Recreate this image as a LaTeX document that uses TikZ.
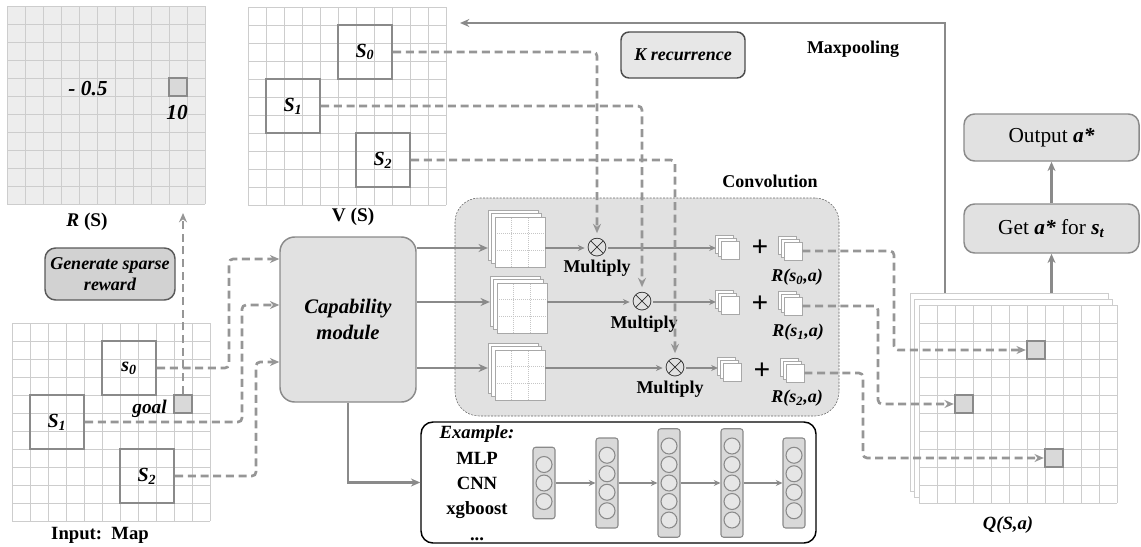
\documentclass[tikz,border=0pt]{standalone}
\usepackage{fontspec}
\setmainfont{Liberation Serif}
\usepackage{tikz}
\usetikzlibrary{calc,positioning,arrows.meta,shadows}

\definecolor{lnGray}{HTML}{8A8A8A}
\definecolor{dashGray}{HTML}{969696}
\definecolor{gridGray}{HTML}{CDCDCD}
\definecolor{boxFill}{HTML}{E1E1E1}
\definecolor{rFill}{HTML}{EDEDED}
\definecolor{genFill}{HTML}{D2D2D2}
\definecolor{cellFill}{HTML}{D9D9D9}
\definecolor{neuFill}{HTML}{E6E6E6}
\definecolor{fmGray}{HTML}{A8A8A8}

% 11x11 map grid, top left corner at (#1,#2)
\newcommand{\gridmap}[3]{%
  \fill[#3] (#1,#2) rectangle ++(198,198);
  \foreach \k in {0,...,11}{%
    \draw[gridln] ({#1+\k*18},#2) -- ++(0,198);
    \draw[gridln] (#1,{#2+\k*18}) -- ++(198,0);
  }}

\begin{document}
\begin{tikzpicture}[x=0.75pt,y=-0.75pt,>={Stealth[length=7pt,width=6pt]},
  gridln/.style={draw=gridGray,line width=0.7pt},
  lbl/.style={font=\fontsize{13.5}{16}\selectfont\bfseries},
  ilbl/.style={font=\fontsize{13.5}{16}\selectfont\bfseries\itshape},
  dashln/.style={draw=dashGray,line width=2pt,dash pattern=on 6pt off 3.5pt,rounded corners=3pt},
  solidln/.style={draw=lnGray,line width=1.8pt},
  thinln/.style={draw=lnGray,line width=1.1pt,>={Stealth[length=5pt,width=4.5pt]}},
  statebox/.style={draw=lnGray,line width=1.8pt,minimum size=40.5pt,inner sep=0pt,
    font=\fontsize{15}{16}\selectfont\bfseries\itshape},
  cellsq/.style={draw=lnGray,line width=1.8pt,fill=cellFill,minimum size=13.5pt,inner sep=0pt},
  roundbox/.style={draw=lnGray,line width=1.1pt,fill=boxFill,rounded corners=8pt,align=center},
  fmdot/.style={draw=gray!45,densely dotted,line width=0.5pt},
  fmap/.style={draw=fmGray,fill=white,line width=0.7pt,minimum size=37.5pt,inner sep=0pt,
    double copy shadow={shadow xshift=-2.6pt,shadow yshift=2.6pt},
    path picture={\foreach \t in {0.333,0.667}{
      \draw[fmdot] ($(path picture bounding box.south west)!\t!(path picture bounding box.south east)$)
        -- ($(path picture bounding box.north west)!\t!(path picture bounding box.north east)$);
      \draw[fmdot] ($(path picture bounding box.south west)!\t!(path picture bounding box.north west)$)
        -- ($(path picture bounding box.south east)!\t!(path picture bounding box.north east)$);}}},
  smap/.style={draw=fmGray,fill=white,line width=0.7pt,minimum size=13.5pt,inner sep=0pt,
    double copy shadow={shadow xshift=-1.9pt,shadow yshift=1.9pt}},
  mult/.style={font=\fontsize{20}{20}\selectfont,inner sep=0pt},
  plus/.style={font=\fontsize{22}{22}\selectfont\bfseries,inner sep=0pt},
  layerbox/.style={draw=lnGray,line width=0.8pt,fill=cellFill,rounded corners=2pt,minimum width=16.5pt,inner sep=0pt},
  neuron/.style={circle,draw=lnGray,line width=0.8pt,fill=neuFill,minimum size=12pt,inner sep=0pt}]
  \useasboundingbox (0,0) rectangle (1141,546);

  % reward map R(S)
  \gridmap{7}{6}{rFill}
  \node[cellsq] (rgoal) at (178,87) {};
  \node[font=\fontsize{16}{18}\selectfont\bfseries\itshape] (rneg) at (88,89) {- 0.5};
  \node[font=\fontsize{16}{18}\selectfont\bfseries\itshape] (rten) at (177,113) {10};
  \node[font=\fontsize{14.5}{16}\selectfont\bfseries] (rlab) at (87,222) {\textit{R} (S)};
  \coordinate (rin) at (183,213);

  \node[roundbox,draw=black!65,fill=genFill,minimum width=97.5pt,minimum height=39pt,
    font=\fontsize{13.5}{16}\selectfont\bfseries\itshape] (gen) at (110,274) {Generate sparse\\reward};

  % input map
  \gridmap{12}{323}{white}
  \node[statebox] (in0) at (129,368) {\raisebox{-4pt}{s\textsubscript{0}}};
  \node[statebox] (in1) at (57,422) {\raisebox{-3pt}{S\textsubscript{1}}};
  \node[statebox] (in2) at (147,476) {\raisebox{-6pt}{S\textsubscript{2}}};
  \node[cellsq] (goal) at (183,404) {};
  \node[font=\fontsize{14.5}{16}\selectfont\bfseries\itshape,left=1pt of goal,yshift=-4pt] (goallab) {goal};
  \node[font=\fontsize{14}{16}\selectfont\bfseries] (inlab) at (100,535) {Input:\ \ Map};
  \draw[dashln,->] (goal.north) -- (rin);

  % value map V(S)
  \gridmap{248}{7}{white}
  \node[statebox] (v0) at (365,52) {\raisebox{-5pt}{S\textsubscript{0}}};
  \node[statebox] (v1) at (293,106) {\raisebox{-2pt}{S\textsubscript{1}}};
  \node[statebox] (v2) at (383,160) {\raisebox{-4pt}{S\textsubscript{2}}};
  \node[font=\fontsize{14.5}{16}\selectfont\bfseries] (vlab) at (353,217) {V (S)};

  \node[roundbox,draw=black!70,fill=boxFill!80!white,rounded corners=6pt,minimum width=93pt,
    minimum height=34.5pt,ilbl] (krec) at (683,55) {K recurrence};
  \node[lbl] (maxlab) at (853,49) {Maxpooling};

  % capability module
  \node[roundbox,minimum width=102pt,minimum height=123.75pt,rounded corners=11pt,
    font=\fontsize{15.5}{19}\selectfont\bfseries\itshape] (cap) at (348,319.5) {Capability\\module};
  \draw[dashln,->] (in0.east) -- (229,368) -- (229,259) -- (cap.west |- 0,259);
  \draw[dashln,->] (in1.east) -- (242,422) -- (242,305) -- (cap.west |- 0,305);
  \draw[dashln,->] (in2.east) -- (256,476) -- (256,362) -- (cap.west |- 0,362);

  % convolution block
  \node[draw=black!60,dash pattern=on 1.5pt off 1pt,fill=boxFill,rounded corners=18pt,
    minimum width=288pt,minimum height=163.5pt] (conv) at (647,307) {};
  \node[lbl] (convlab) at (770,181) {Convolution};

  \node[fmap] (f0) at (520,242) {};
  \node[fmap] (f1) at (522,308) {};
  \node[fmap] (f2) at (520,375) {};
  \node[mult] (m0) at (597,248) {$\otimes$};
  \node[mult] (m1) at (642,302) {$\otimes$};
  \node[mult] (m2) at (675,368) {$\otimes$};
  \node[lbl] (m0lab) at (597,268) {Multiply};
  \node[lbl] (m1lab) at (644,324) {Multiply};
  \node[lbl] (m2lab) at (670,389) {Multiply};

  \node[smap] (o0) at (730,250) {};
  \node[smap] (o1) at (730,305) {};
  \node[smap] (o2) at (732,372) {};
  \node[plus] (p0) at (760,248) {+};
  \node[plus] (p1) at (760,304) {+};
  \node[plus] (p2) at (762,371) {+};
  \node[smap] (r0) at (793,251) {};
  \node[smap] (r1) at (793,306) {};
  \node[smap] (r2) at (795,373) {};
  \node[ilbl] (r0lab) at (797,277) {R(s\textsubscript{0},a)};
  \node[ilbl] (r1lab) at (798,332) {R(s\textsubscript{1},a)};
  \node[ilbl] (r2lab) at (797,398) {R(s\textsubscript{2},a)};

  \foreach \i in {0,1,2}{
    \draw[solidln,->] (cap.east |- m\i) -- ([xshift=-5pt]f\i.west |- m\i);
    \draw[thinln,->] (f\i.east |- m\i) -- ([xshift=-1pt]m\i.west);
    \draw[thinln,->] (m\i.east) -- ([xshift=-3.5pt]o\i.west |- m\i);
  }

  \draw[dashln,->,shorten >=4pt] (v0.east) -| (m0.north);
  \draw[dashln,->,shorten >=4pt] (v1.east) -| (m1.north);
  \draw[dashln,->,shorten >=4pt] (v2.east) -| (m2.north);

  % example networks
  \node[draw=black,line width=1.1pt,fill=white,rounded corners=9pt,minimum width=296.25pt,
    minimum height=90.75pt] (ex) at (618.5,482.5) {};
  \node[lbl,font=\fontsize{14}{19}\selectfont\bfseries,align=center] (extxt) at (477,483)
    {\textit{Example:}\\MLP\\CNN\\xgboost\\...};
  \foreach \c/\n/\x in {1/3/544,2/4/607,3/5/669,4/5/732,5/4/794}{
    \pgfmathsetmacro\hh{(\n*18.5+16)*0.75}
    \node[layerbox,minimum height=\hh pt] (L\c) at (\x,483) {};
    \foreach \k in {1,...,\n}
      \node[neuron] (n\c\k) at (\x,{483+(\k-(\n+1)/2)*18.5}) {};
  }
  \foreach \a/\b in {1/2,2/3,3/4,4/5}
    \draw[thinln,->] (L\a) -- (L\b);
  \draw[solidln,line width=2.2pt,->] (cap.south) |- (ex.west);

  % Q(S,a)
  \node[draw=gridGray,fill=white,line width=0.7pt,minimum size=148.5pt,inner sep=0pt] (qback) at (1009,392) {};
  \node[draw=gridGray,fill=white,line width=0.7pt,minimum size=148.5pt,inner sep=0pt] (qmid) at (1013.5,398) {};
  \gridmap{919}{305}{white}
  \node[cellsq] (q0) at (1036,350) {};
  \node[cellsq] (q1) at (964,404) {};
  \node[cellsq] (q2) at (1054,458) {};
  \node[font=\fontsize{14}{16}\selectfont\bfseries\itshape] (qlab) at (1008,525) {Q(S,a)};

  \draw[dashln,->] (r0.east) -- (r0.east -| 894,0) |- (q0.west);
  \draw[dashln,->] (r1.east) -- (r1.east -| 878,0) |- (q1.west);
  \draw[dashln,->] (r2.east) -- (r2.east -| 863,0) |- (q2.west);

  % outputs
  \node[roundbox,minimum width=131.25pt,minimum height=36.75pt,
    font=\fontsize{16}{18}\selectfont] (get) at (1051.5,228.5)
    {Get \textbf{\textit{a*}} for \textbf{\textit{s}\textsubscript{\textit{t}}}};
  \node[roundbox,minimum width=131.25pt,minimum height=35.25pt,
    font=\fontsize{16}{18}\selectfont] (out) at (1051.5,137.5) {Output \textbf{\textit{a*}}};
  \draw[solidln,->] (get.south |- qback.north) -- (get.south);
  \draw[solidln,->] (get.north) -- (out.south);

  \coordinate (vin) at (460,23);
  \draw[solidln,line width=2pt,->] (qback.north -| 945,0) |- (vin);
\end{tikzpicture}
\end{document}
